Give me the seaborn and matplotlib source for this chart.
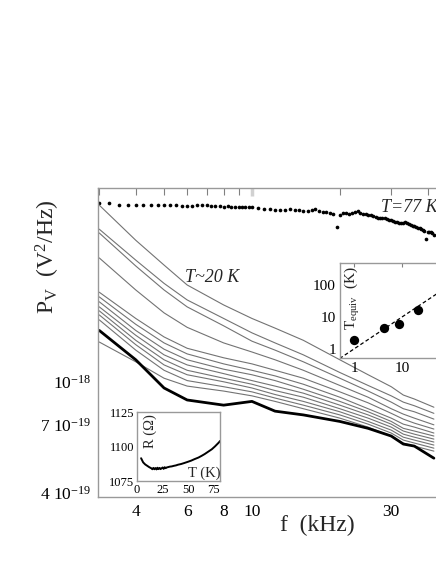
import numpy as np
import pandas as pd
import seaborn as sns
import matplotlib.pyplot as plt
from matplotlib.ticker import FixedLocator, FixedFormatter, NullFormatter

# main panel: spectra near T~20 K, values in units of 1e-19 V^2/Hz
freq = [3, 4, 5, 6, 8, 10, 12, 15, 20, 25, 30, 33, 36, 42]
spectra = [
    [43.2, 32.3, 26.3, 22.3, 18.9, 16.9, 15.6, 14.1, 12.0, 10.6, 9.6, 8.96, 8.67, 8.1],
    [35.4, 27.4, 22.6, 19.7, 16.9, 15.0, 13.8, 12.5, 10.8, 9.7, 8.9, 8.45, 8.2, 7.7],
    [34.3, 26.1, 21.4, 18.6, 15.9, 14.0, 13.0, 11.8, 10.3, 9.26, 8.45, 8.0, 7.8, 7.34],
    [27.9, 21.4, 17.7, 15.7, 13.8, 12.8, 12.0, 11.0, 9.7, 8.8, 8.0, 7.65, 7.4, 7.0],
    [21.0, 16.9, 14.5, 13.2, 12.2, 11.6, 11.0, 10.3, 9.2, 8.4, 7.7, 7.34, 7.1, 6.76],
    [20.2, 16.1, 13.8, 12.6, 11.6, 11.0, 10.5, 9.8, 8.8, 8.0, 7.4, 7.04, 6.87, 6.54],
    [19.4, 15.3, 13.1, 12.0, 11.1, 10.6, 10.1, 9.4, 8.5, 7.8, 7.2, 6.8, 6.65, 6.38],
    [18.6, 14.7, 12.5, 11.5, 10.7, 10.1, 9.65, 9.1, 8.24, 7.6, 7.04, 6.65, 6.48, 6.22],
    [18.0, 14.1, 12.0, 11.0, 10.3, 9.8, 9.3, 8.8, 8.0, 7.4, 6.87, 6.48, 6.32, 6.07],
    [17.4, 13.6, 11.5, 10.6, 10.0, 9.5, 9.0, 8.5, 7.8, 7.2, 6.7, 6.32, 6.17, 5.92],
    [16.7, 13.0, 11.0, 10.1, 9.6, 9.2, 8.74, 8.24, 7.6, 7.04, 6.54, 6.17, 6.02, 5.77],
    [13.9, 11.8, 10.3, 9.65, 9.26, 8.9, 8.5, 8.0, 7.4, 6.87, 6.38, 6.02, 5.87, 5.63],
]
spectrum_bold = [15.3, 12.0, 9.5, 8.6, 8.24, 8.5, 7.84, 7.6, 7.2, 6.8, 6.38, 5.97, 5.87, 5.31]

# T = 77 K spectrum, values in units of 1e-18 V^2/Hz
f77_low = np.arange(3.0, 10.01, 0.25)
p77_low = [4.38, 4.38, 4.33, 4.31, 4.31, 4.33, 4.33, 4.32, 4.33, 4.31,
           4.33, 4.30, 4.28, 4.30, 4.32, 4.31, 4.32, 4.30, 4.29, 4.28,
           4.27, 4.28, 4.27, 4.26, 4.25, 4.26, 4.25, 4.25, 4.24]
f77_high = np.arange(10.5, 42.01, 0.5)
p77_high = [4.22, 4.20, 4.17, 4.14, 4.15, 4.16, 4.17, 4.15, 4.14, 4.13,
            4.12, 4.15, 4.17, 4.12, 4.09, 4.07, 4.04, 4.00, 3.60, 3.97,
            4.04, 4.05, 4.02, 4.06, 4.08, 4.10, 4.06, 4.02, 4.00, 3.99,
            3.97, 3.95, 3.93, 3.90, 3.89, 3.88, 3.87, 3.86, 3.83, 3.81,
            3.79, 3.77, 3.75, 3.73, 3.72, 3.74, 3.76, 3.74, 3.71, 3.68,
            3.65, 3.62, 3.60, 3.58, 3.57, 3.55, 3.52, 3.50, 3.26, 3.47,
            3.46, 3.45, 3.42, 3.38]

# inset: equivalent temperature vs frequency
f_equiv = [1, 4.2, 8.7, 21.5]
t_equiv = [1.9, 4.5, 6.2, 16.5]
equiv_line = [0.5, 100]

# inset: resistance vs temperature
temp_K = [4, 5, 6, 8, 10, 12, 14, 15, 16, 17, 18, 19, 20, 21, 22, 23, 24, 25,
          26, 27, 28, 29, 30, 32, 34, 36, 38, 40, 43, 46, 50, 53, 56, 60, 63,
          66, 70, 73, 76, 78, 80, 81]
res_ohm = [1091.5, 1090, 1088.5, 1087, 1086, 1085, 1084.2, 1083.5, 1084.5,
           1083.5, 1084.4, 1083.4, 1084.6, 1083.6, 1084.5, 1083.6, 1084.2,
           1084.8, 1083.8, 1085, 1084.3, 1084.8, 1085, 1085.4, 1085.6, 1086,
           1086.3, 1086.8, 1087.3, 1088, 1089, 1089.8, 1090.8, 1092, 1093.2,
           1094.5, 1096.5, 1098, 1100, 1101.5, 1103, 1104]

sns.set_theme(style='white')
plt.rcParams['font.family'] = ['Liberation Serif', 'DejaVu Serif']
plt.rcParams['mathtext.fontset'] = 'custom'
plt.rcParams['mathtext.rm'] = 'Liberation Serif'
plt.rcParams['mathtext.it'] = 'Liberation Serif:italic'
plt.rcParams['axes.edgecolor'] = '0.6'
plt.rcParams['axes.linewidth'] = 1.0

W, H = 436, 564
fig = plt.figure(figsize=(W / 100, H / 100), dpi=100)

# ---- main axes
ax = fig.add_axes([98 / W, 67 / H, 358 / W, 309 / H])
ax.set_xscale('log')
ax.set_yscale('log')
for vals in spectra:
    sns.lineplot(x=freq, y=np.array(vals) * 1e-19, ax=ax, color='0.45', lw=0.8)
sns.lineplot(x=freq, y=np.array(spectrum_bold) * 1e-19, ax=ax, color='black', lw=2.0)
sns.scatterplot(x=np.r_[f77_low, f77_high], y=np.r_[p77_low, p77_high] * 1e-18,
                ax=ax, s=7, color='black', linewidth=0)
ax.set_xlim(2.97, 50)
ax.set_ylim(3.85e-19, 4.98e-18)
ax.spines['right'].set_visible(False)

ax.xaxis.set_major_locator(FixedLocator([10]))
ax.xaxis.set_major_formatter(FixedFormatter(['10']))
ax.xaxis.set_minor_locator(FixedLocator([3, 4, 5, 6, 7, 8, 9, 20, 30, 40]))
ax.xaxis.set_minor_formatter(FixedFormatter(['', '4', '', '6', '', '8', '', '', '30', '']))
ax.yaxis.set_major_locator(FixedLocator([4e-19, 7e-19, 1e-18]))
ax.yaxis.set_major_formatter(FixedFormatter([r'4 10$^{-19}$', r'7 10$^{-19}$', r'10$^{-18}$']))
ax.yaxis.set_minor_locator(FixedLocator([5e-19, 6e-19, 8e-19, 9e-19, 2e-18, 3e-18, 4e-18]))
ax.yaxis.set_minor_formatter(NullFormatter())

ax.tick_params(which='both', direction='in', top=True, right=False,
               color='0.5', labelcolor='black', labelsize=12.5, pad=5)
ax.tick_params(which='minor', length=5, width=0.8)
ax.tick_params(axis='y', which='major', length=7, width=0.8)
ax.tick_params(axis='x', which='major', length=6, width=2.5, color='0.82')
ax.set_xlabel('')
ax.set_ylabel('')

fig.text(48 / W, 1 - 257 / H, r'P$_{\rm V}$  (V$^2$/Hz)', rotation=90,
         ha='center', va='center', fontsize=17)
fig.text(317 / W, 1 - 525 / H, 'f  (kHz)', ha='center', va='center', fontsize=17)
fig.text(409 / W, 1 - 207 / H, 'T=77 K', style='italic', ha='center', va='center', fontsize=13)
fig.text(212 / W, 1 - 277 / H, 'T~20 K', style='italic', ha='center', va='center', fontsize=13)

# ---- inset: T_equiv
ax1 = fig.add_axes([340 / W, 1 - 358 / H, 110 / W, 95 / H])
ax1.set_xscale('log')
ax1.set_yscale('log')
sns.lineplot(x=equiv_line, y=equiv_line, ax=ax1, color='black', lw=0.9, ls=(0, (3, 2)))
sns.scatterplot(x=f_equiv, y=t_equiv, ax=ax1, s=45, color='black', linewidth=0, zorder=3)
ax1.set_xlim(0.51, 100)
ax1.set_ylim(0.52, 490)
ax1.xaxis.set_major_locator(FixedLocator([1, 10]))
ax1.xaxis.set_major_formatter(FixedFormatter(['1', '10']))
ax1.yaxis.set_major_locator(FixedLocator([1, 10, 100]))
ax1.yaxis.set_major_formatter(FixedFormatter(['1', '10', '100']))
ax1.xaxis.set_minor_locator(FixedLocator([]))
ax1.yaxis.set_minor_locator(FixedLocator([]))
ax1.tick_params(direction='in', top=True, right=True, length=3, width=0.8,
                color='0.5', labelcolor='black', labelsize=11, pad=3)
ax1.set_xlabel('')
ax1.set_ylabel('')
fig.text(352 / W, 1 - 298 / H, r'T$_{\rm equiv}$  (K)', rotation=90,
         ha='center', va='center', fontsize=11)

# ---- inset: R(T)
ax2 = fig.add_axes([137 / W, 1 - 481 / H, 83 / W, 69 / H])
sns.lineplot(x=temp_K, y=res_ohm, ax=ax2, color='black', lw=1.4)
ax2.set_xlim(0, 81)
ax2.set_ylim(1075, 1125)
ax2.set_xticks([0, 25, 50, 75])
ax2.set_yticks([1075, 1100, 1125])
ax2.tick_params(direction='in', length=3, width=0.8, color='0.5',
                labelcolor='black', labelsize=9, pad=2)
ax2.set_xlabel('')
ax2.set_ylabel('')
fig.text(150 / W, 1 - 431 / H, 'R (Ω)', rotation=90, ha='center', va='center', fontsize=10.5)
fig.text(204 / W, 1 - 473 / H, 'T (K)', ha='center', va='center', fontsize=10.5)

fig.savefig('out.png', dpi=100)
